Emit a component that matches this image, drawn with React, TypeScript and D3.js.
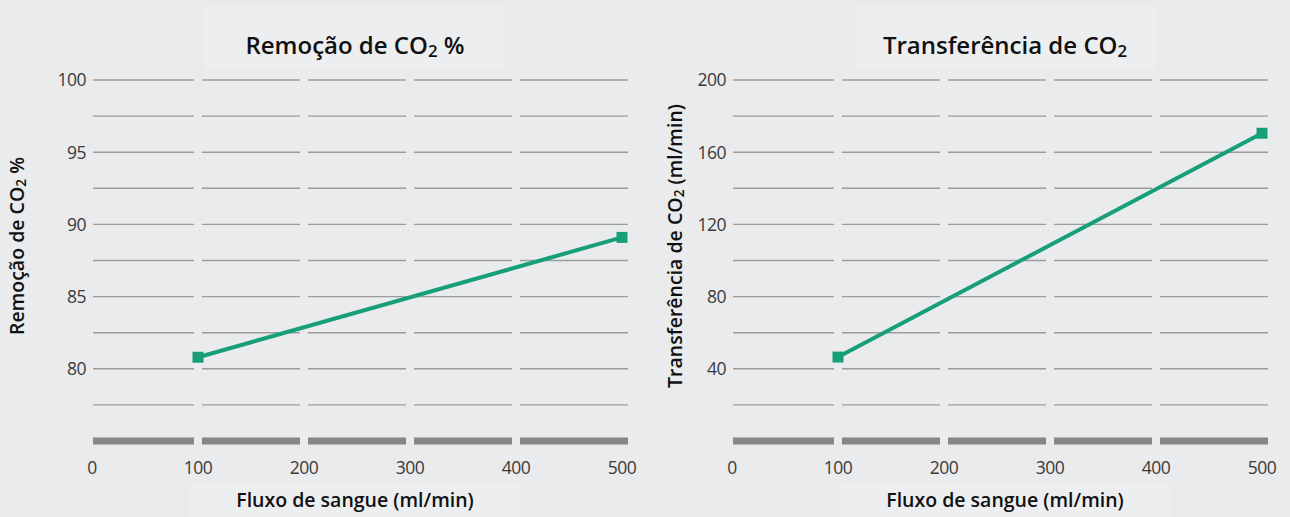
import React, { useEffect, useRef } from 'react';
import * as d3 from 'd3';

// x categories (blood flow, ml/min)
const flowTicks = [0, 100, 200, 300, 400, 500];
const flowPoints = [100, 500];

// left chart: CO2 removal %
const removalValues = [80.8, 89.1];
const removalTicks = [80, 85, 90, 95, 100];
const removalGrid = [77.5, 80, 82.5, 85, 87.5, 90, 92.5, 95, 97.5, 100];

// right chart: CO2 transfer ml/min
const transferValues = [46.5, 170.5];
const transferTicks = [40, 80, 120, 160, 200];
const transferGrid = [20, 40, 60, 80, 100, 120, 140, 160, 180, 200];

const FONT = "'Open Sans', 'DejaVu Sans', sans-serif";
const GREEN = '#17a077';

interface PanelCfg {
    x0: number;
    x1: number;
    yDomain: [number, number];
    ticks: number[];
    grid: number[];
    values: number[];
    title: string[];
    yTitle: string[];
    titleX: number;
    yTitleX: number;
    yTitleY: number;
}

const panels: PanelCfg[] = [
    {
        x0: 92, x1: 622, yDomain: [75, 100], ticks: removalTicks, grid: removalGrid,
        values: removalValues, title: ['Remoção de CO', '2', ' %'], yTitle: ['Remoção de CO', '2', ' %'],
        titleX: 355, yTitleX: 24, yTitleY: 246,
    },
    {
        x0: 732, x1: 1262, yDomain: [0, 200], ticks: transferTicks, grid: transferGrid,
        values: transferValues, title: ['Transferência de CO', '2', ''], yTitle: ['Transferência de CO', '2', ' (ml/min)'],
        titleX: 1005, yTitleX: 682, yTitleY: 246,
    },
];

function addSubText(sel: d3.Selection<SVGTextElement, unknown, null, undefined>, parts: string[], size: number) {
    sel.append('tspan').text(parts[0]);
    sel.append('tspan').attr('font-size', size * 0.7).attr('dy', size * 0.12).text(parts[1]);
    sel.append('tspan').attr('dy', -size * 0.12).text(parts[2]);
}

export default function App() {
    const svgRef = useRef<SVGSVGElement>(null);

    useEffect(() => {
        if (!svgRef.current) return;
        const svg = d3.select(svgRef.current);
        svg.selectAll('*').remove();

        svg.append('rect').attr('width', 1290).attr('height', 517).attr('fill', '#eaebed');

        panels.forEach(p => {
            const x = d3.scaleLinear().domain([0, 500]).range([p.x0, p.x1]);
            const y = d3.scaleLinear().domain(p.yDomain).range([441, 80]);
            const g = svg.append('g');

            // faint boxes behind titles
            g.append('rect').attr('x', p.titleX - 150).attr('y', 6).attr('width', 300).attr('height', 64).attr('fill', '#edeef0');
            g.append('rect').attr('x', p.titleX - 165).attr('y', 482).attr('width', 330).attr('height', 35).attr('fill', '#edeef0');

            // segmented gridlines
            const segs = d3.pairs(flowTicks).map(([a, b], i, arr) => ({
                s: x(a) + (i === 0 ? 1 : 4),
                e: x(b) - 4 + (i === arr.length - 1 ? 10 : 0),
            }));
            p.grid.forEach(v => {
                segs.forEach(sg => {
                    g.append('line')
                        .attr('x1', sg.s).attr('x2', sg.e)
                        .attr('y1', y(v)).attr('y2', y(v))
                        .attr('stroke', '#9c9c9c').attr('stroke-width', 1.4);
                });
            });
            // heavy baseline
            segs.forEach(sg => {
                g.append('rect')
                    .attr('x', sg.s).attr('width', sg.e - sg.s)
                    .attr('y', y(p.yDomain[0]) - 3.5).attr('height', 7)
                    .attr('fill', '#878787');
            });

            // y tick labels
            g.selectAll('.yt').data(p.ticks).enter().append('text')
                .attr('x', p.x0 - 6).attr('y', d => y(d)).attr('dy', '0.36em')
                .attr('text-anchor', 'end').attr('font-family', FONT).attr('font-size', 17.5)
                .attr('letter-spacing', -0.5)
                .attr('fill', '#3a3a3a').text(d => d);

            // x tick labels
            g.selectAll('.xt').data(flowTicks).enter().append('text')
                .attr('x', d => x(d)).attr('y', 474)
                .attr('text-anchor', 'middle').attr('font-family', FONT).attr('font-size', 17.5)
                .attr('letter-spacing', -0.5)
                .attr('fill', '#3a3a3a').text(d => d);

            // titles
            const t = g.append('text').attr('x', p.titleX).attr('y', 54).attr('text-anchor', 'middle')
                .attr('font-family', FONT).attr('font-size', 24).attr('font-weight', 600).attr('fill', '#111');
            addSubText(t, p.title, 24);

            g.append('text').attr('x', p.titleX).attr('y', 507).attr('text-anchor', 'middle')
                .attr('font-family', FONT).attr('font-size', 19.5).attr('font-weight', 600).attr('fill', '#111')
                .text('Fluxo de sangue (ml/min)');

            const yt = g.append('text')
                .attr('transform', `translate(${p.yTitleX},${p.yTitleY}) rotate(-90)`)
                .attr('text-anchor', 'middle').attr('font-family', FONT).attr('font-size', 19.5)
                .attr('font-weight', 600).attr('fill', '#111');
            addSubText(yt, p.yTitle, 19.5);

            // data line
            const pts = flowPoints.map((f, i) => [f, p.values[i]] as [number, number]);
            const line = d3.line<[number, number]>().x(d => x(d[0])).y(d => y(d[1]));
            g.append('path').datum(pts).attr('d', line)
                .attr('fill', 'none').attr('stroke', GREEN).attr('stroke-width', 4);
            g.selectAll('.pt').data(pts).enter().append('rect')
                .attr('x', d => x(d[0]) - 5.5).attr('y', d => y(d[1]) - 5.5)
                .attr('width', 11).attr('height', 11).attr('fill', GREEN);
        });
    }, []);

    return (
        <div style={{ position: 'absolute', left: 0, top: 0 }}>
            <svg ref={svgRef} width={1290} height={517} />
        </div>
    );
}
